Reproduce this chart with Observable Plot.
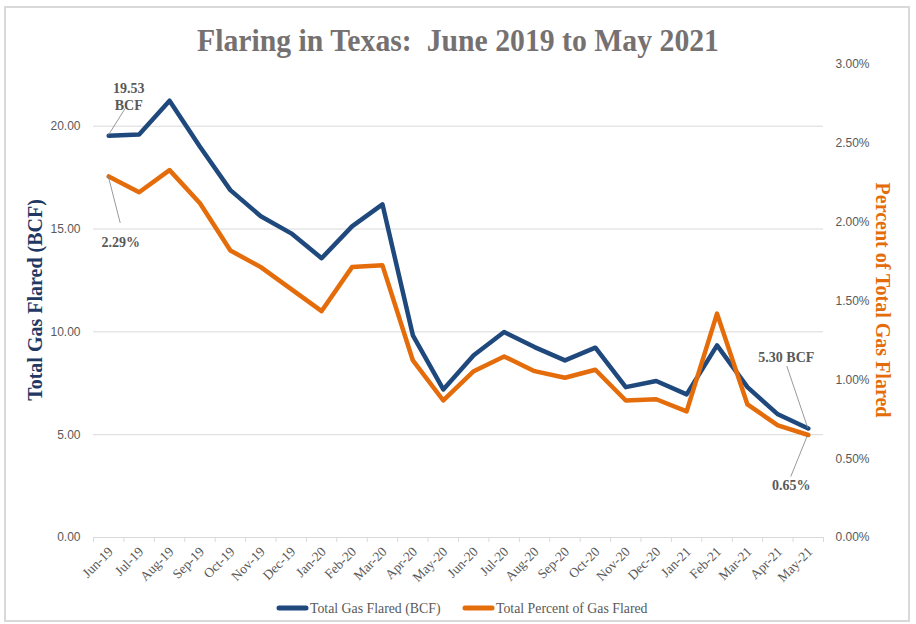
<!DOCTYPE html>
<html><head><meta charset="utf-8">
<script src="https://cdn.jsdelivr.net/npm/d3@7"></script>
<script src="https://cdn.jsdelivr.net/npm/@observablehq/plot@0.6"></script>
<style>body{margin:0;background:#fff}</style>
</head><body><div id="chart"></div>
<script>
// ---- data ----
const months = ["Jun-19","Jul-19","Aug-19","Sep-19","Oct-19","Nov-19","Dec-19","Jan-20","Feb-20","Mar-20","Apr-20","May-20",
                "Jun-20","Jul-20","Aug-20","Sep-20","Oct-20","Nov-20","Dec-20","Jan-21","Feb-21","Mar-21","Apr-21","May-21"];
const gasFlaredBCF = [19.53,19.60,21.24,19.00,16.89,15.62,14.79,13.58,15.13,16.20,9.83,7.20,
                      8.86,9.99,9.26,8.61,9.23,7.31,7.61,6.96,9.34,7.31,5.99,5.30];
const pctFlared = [2.29,2.19,2.33,2.12,1.82,1.715,1.575,1.436,1.715,1.726,1.123,0.869,
                   1.055,1.148,1.055,1.013,1.064,0.869,0.877,0.80,1.42,0.844,0.711,0.65];
const leftTicks = [0,5,10,15,20];
const rightTicks = [0,0.5,1.0,1.5,2.0,2.5,3.0];
const titleText = "Flaring in Texas:  June 2019 to May 2021";
const leftTitle = "Total Gas Flared (BCF)";
const rightTitle = "Percent of Total Gas Flared";
const seriesNames = ["Total Gas Flared (BCF)", "Total Percent of Gas Flared"];
const labelFirstGas = "19.53\nBCF", labelFirstPct = "2.29%", labelLastGas = "5.30 BCF", labelLastPct = "0.65%";

// ---- setup ----
const leftMax = 23, rightMax = 3.0;
const k = leftMax / rightMax; // percent -> left-axis units
const rows = months.map((m, i) => ({i, m, gas: gasFlaredBCF[i], pct: pctFlared[i]}));
const last = rows.length - 1;
const BLUE = "#1F497D", ORANGE = "#E46C0A", GRID = "#D9D9D9", TXT = "#595959";

const chart = Plot.plot({
  width: 916, height: 624,
  marginTop: 64, marginBottom: 87, marginLeft: 93, marginRight: 93,
  style: {fontFamily: "Liberation Serif", fontSize: "12px", background: "#fff", color: TXT},
  x: {domain: [-0.5, months.length - 0.5]},
  y: {domain: [0, leftMax]},
  marks: [
    Plot.gridY(leftTicks.filter(d => d > 0), {stroke: GRID, strokeOpacity: 1}),
    Plot.ruleY([0], {stroke: GRID, strokeWidth: 1.2}),
    Plot.axisX(d3.range(months.length + 1).map(i => i - 0.5), {tickSize: 5, stroke: GRID, strokeOpacity: 1, tickFormat: () => "", label: null}),
    // month labels, rotated, drawn through the x scale
    Plot.text(rows, {x: "i", y: () => 0, text: "m", rotate: -45, textAnchor: "end", dx: 2, dy: 12,
                     fill: TXT, fontFamily: "Liberation Serif", fontSize: 13.5}),
    Plot.axisY(leftTicks, {anchor: "left", tickSize: 0, tickPadding: 13, tickFormat: d => d.toFixed(2), label: null, fill: TXT, fontFamily: "Liberation Sans", fontSize: 12}),
    Plot.axisY(rightTicks.map(p => p * k), {anchor: "right", tickSize: 0, tickPadding: 12, tickFormat: v => (v / k).toFixed(2) + "%", label: null, fill: TXT, fontFamily: "Liberation Sans", fontSize: 12}),
    Plot.line(rows, {x: "i", y: "gas", stroke: BLUE, strokeWidth: 4.5, strokeLinejoin: "round", strokeLinecap: "round"}),
    Plot.line(rows, {x: "i", y: d => d.pct * k, stroke: ORANGE, strokeWidth: 4.5, strokeLinejoin: "round", strokeLinecap: "round"}),
    Plot.text([rows[0]], {x: "i", y: "gas", text: () => labelFirstGas, dx: 20, dy: -40, lineHeight: 1.25, fill: TXT, fontWeight: "bold", fontSize: 14}),
    Plot.text([rows[0]], {x: "i", y: d => d.pct * k, text: () => labelFirstPct, dx: 12, dy: 66, fill: TXT, fontWeight: "bold", fontSize: 14}),
    Plot.text([rows[last]], {x: "i", y: "gas", text: () => labelLastGas, dx: -22, dy: -71, fill: TXT, fontWeight: "bold", fontSize: 14}),
    Plot.text([rows[last]], {x: "i", y: d => d.pct * k, text: () => labelLastPct, dx: -17, dy: 50, fill: TXT, fontWeight: "bold", fontSize: 14})
  ]
});
document.getElementById("chart").append(chart);

// ---- decorations via d3 ----
const svg = d3.select(chart);
const sx = chart.scale("x"), sy = chart.scale("y");
// chart border
svg.insert("rect", ":first-child").attr("x", 5).attr("y", 7).attr("width", 904).attr("height", 614)
  .attr("fill", "none").attr("stroke", GRID).attr("stroke-width", 2);
// leader lines (start at data points via scales)
const leaders = [
  [rows[0].i, rows[0].gas, 17, -27],
  [rows[0].i, rows[0].pct * k, 12, 47],
  [rows[last].i, rows[last].gas, -21, -62],
  [rows[last].i, rows[last].pct * k, -17, 42]
];
for (const [xi, yv, ox, oy] of leaders) {
  const px = sx.apply(xi), py = sy.apply(yv);
  svg.append("line").attr("x1", px).attr("y1", py).attr("x2", px + ox).attr("y2", py + oy)
    .attr("stroke", "#7F7F7F").attr("stroke-width", 0.8);
}
// title
svg.append("text").attr("x", 458).attr("y", 51).attr("text-anchor", "middle")
  .attr("font-family", "Liberation Serif").attr("font-weight", "bold").attr("font-size", 31)
  .attr("fill", "#767171").attr("textLength", 522).attr("lengthAdjust", "spacingAndGlyphs")
  .style("white-space", "pre").text(titleText);
// axis titles
svg.append("text").attr("transform", "translate(35,300) rotate(-90)").attr("text-anchor", "middle")
  .attr("dominant-baseline", "central").attr("font-family", "Liberation Serif").attr("font-weight", "bold")
  .attr("font-size", 20).attr("fill", "#1F3864").text(leftTitle);
svg.append("text").attr("transform", "translate(883,300) rotate(90)").attr("text-anchor", "middle")
  .attr("dominant-baseline", "central").attr("font-family", "Liberation Serif").attr("font-weight", "bold")
  .attr("font-size", 20).attr("fill", ORANGE).text(rightTitle);
// legend
const legend = [[277, BLUE, seriesNames[0]], [463, ORANGE, seriesNames[1]]];
for (const [lx, col, name] of legend) {
  svg.append("line").attr("x1", lx + 2).attr("x2", lx + 29).attr("y1", 608).attr("y2", 608)
    .attr("stroke", col).attr("stroke-width", 5).attr("stroke-linecap", "round");
  svg.append("text").attr("x", lx + 33).attr("y", 608).attr("text-anchor", "start").attr("dominant-baseline", "central")
    .attr("font-family", "Liberation Serif").attr("font-size", 13.8).attr("fill", TXT).text(name);
}
</script></body></html>
